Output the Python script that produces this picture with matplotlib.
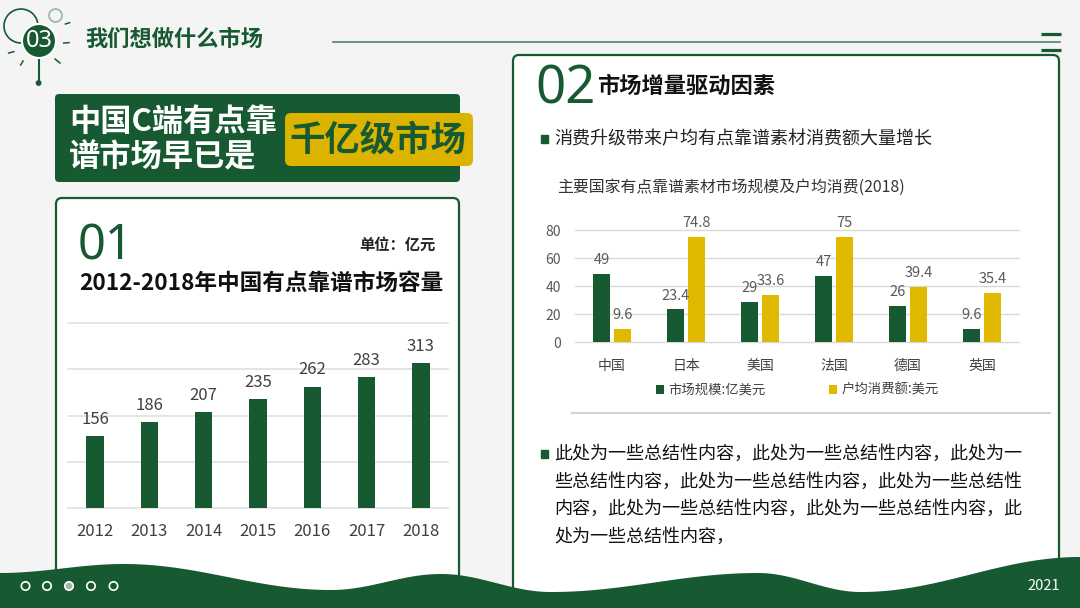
import numpy as np
import matplotlib.pyplot as plt
from matplotlib.patches import FancyBboxPatch, Rectangle, Circle

plt.rcParams['font.family'] = ['Noto Sans CJK SC', 'DejaVu Sans']

# left chart data
years = ['2012', '2013', '2014', '2015', '2016', '2017', '2018']
capacity = [156, 186, 207, 235, 262, 283, 313]

# right chart data
countries = ['中国', '日本', '美国', '法国', '德国', '英国']
market_size = [49, 23.4, 29, 47, 26, 9.6]
household_spend = [9.6, 74.8, 33.6, 75, 39.4, 35.4]
legend_labels = ['市场规模:亿美元', '户均消费额:美元']

summary_lines = [
    '此处为一些总结性内容，此处为一些总结性内容，此处为一',
    '些总结性内容，此处为一些总结性内容，此处为一些总结性',
    '内容，此处为一些总结性内容，此处为一些总结性内容，此',
    '处为一些总结性内容，',
]

GREEN = '#175a32'
YELLOW = '#e0b800'
BG = '#f4f4f4'
W, H = 1080, 608

fig = plt.figure(figsize=(W / 100, H / 100), dpi=100)
fig.patch.set_facecolor(BG)
bg = fig.add_axes([0, 0, 1, 1])
bg.set_xlim(0, W)
bg.set_ylim(H, 0)
bg.axis('off')


def box(x0, y0, x1, y1):
    # pixel box -> figure fraction
    return [x0 / W, 1 - y1 / H, (x1 - x0) / W, (y1 - y0) / H]


# header icon
bg.add_patch(Circle((21, 26), 17, fc='none', ec=GREEN, lw=1.2))
bg.add_patch(Circle((55.5, 15.5), 6.5, fc='none', ec='#9ab5a3', lw=1.2))
bg.plot([38.6, 38.6], [57, 83], color=GREEN, lw=1.5)
bg.add_patch(Circle((38.6, 83), 2.2, color=GREEN))
for (x0, y0, x1, y1) in [(65.4, 24, 69.6, 22.7), (63.7, 43, 68.9, 42.7),
                         (55, 59, 60, 63), (23, 61, 20.7, 65), (8.6, 53, 13.8, 51.7)]:
    bg.plot([x0, x1], [y0, y1], color=GREEN, lw=1.1)
bg.add_patch(Circle((39, 41), 17, fc=GREEN, ec='white', lw=1.5, zorder=3))
bg.text(39, 41, '03', color='white', fontsize=17, ha='center', va='center',
        family=['Noto Sans', 'DejaVu Sans'], zorder=4)
bg.text(85, 39, '我们想做什么市场', color=GREEN, fontsize=16, fontweight='bold', va='center')
bg.plot([333, 1060], [41.5, 41.5], color='#4f8462', lw=1.2)
for yy in (34, 50):
    bg.plot([1041, 1061], [yy, yy], color=GREEN, lw=2.3, solid_capstyle='butt')

# title block
bg.add_patch(FancyBboxPatch((55, 94), 405, 88, boxstyle='round,pad=0,rounding_size=4',
                            fc=GREEN, ec='none'))
bg.text(69, 122, '中国C端有点靠', color='white', fontsize=22.5, fontweight='bold', va='center')
bg.text(69, 157, '谱市场早已是', color='white', fontsize=22.5, fontweight='bold', va='center')
bg.add_patch(FancyBboxPatch((285, 113), 188, 53, boxstyle='round,pad=0,rounding_size=6',
                            fc='#dcb400', ec='none'))
bg.text(378, 140, '千亿级市场', color=GREEN, fontsize=25.5, fontweight='bold',
        ha='center', va='center')

# panels
bg.add_patch(FancyBboxPatch((56, 198), 403, 420, boxstyle='round,pad=0,rounding_size=6',
                            fc='white', ec=GREEN, lw=1.6))
bg.add_patch(FancyBboxPatch((513, 55), 546, 560, boxstyle='round,pad=0,rounding_size=6',
                            fc='white', ec=GREEN, lw=1.6))

# left panel texts
bg.text(78, 259, '01', color=GREEN, fontsize=35, family=['Noto Sans', 'DejaVu Sans'],
        va='baseline')
bg.text(359, 245, '单位：亿元', color='#222222', fontsize=11, fontweight='bold', va='center')
bg.text(79, 283, '2012-2018年中国有点靠谱市场容量', color='#111111', fontsize=16.3,
        fontweight='bold', va='center')

# right panel texts
bg.text(535, 103, '02', color=GREEN, fontsize=38, family=['Noto Sans', 'DejaVu Sans'],
        va='baseline')
bg.text(597, 86, '市场增量驱动因素', color='#111111', fontsize=16, fontweight='bold', va='center')
bg.add_patch(Rectangle((541, 135), 7, 8, color=GREEN))
bg.text(554, 139, '消费升级带来户均有点靠谱素材消费额大量增长', color='#222222', fontsize=13,
        va='center')
bg.text(557, 187, '主要国家有点靠谱素材市场规模及户均消费(2018)', color='#333333',
        fontsize=11.4, va='center')
bg.plot([572, 1050], [413, 413], color='#d4d4d4', lw=1.5)
bg.add_patch(Rectangle((541, 450), 7, 8, color=GREEN))
for i, line in enumerate(summary_lines):
    bg.text(554, [454, 482, 509, 537][i], line, color='#111111', fontsize=13, va='center')

# bottom wave
wx = [0, 124, 331, 441, 551, 758, 861, 1080]
wy = [573, 564, 590, 574, 592, 573, 592, 557]
xs, ys = [], []
for i in range(len(wx) - 1):
    t = np.linspace(0, 1, 60)
    s = (1 - np.cos(np.pi * t)) / 2
    xs.extend(wx[i] + (wx[i + 1] - wx[i]) * t)
    ys.extend(wy[i] + (wy[i + 1] - wy[i]) * s)
bg.fill_between(xs, ys, H, color=GREEN, zorder=5, lw=0)
for i, cx in enumerate([25.5, 47, 69, 91, 113.5]):
    bg.add_patch(Circle((cx, 586), 4.2, fc='#9fb8a6' if i == 2 else 'none',
                        ec='white', lw=1.2, zorder=6))
bg.text(1044, 586, '2021', color='white', fontsize=10.5, ha='center', va='center', zorder=6)

# left chart
ax1 = fig.add_axes(box(68, 323, 448, 508))
ax1.patch.set_visible(False)
bars = ax1.bar(years, capacity, width=0.32, color=GREEN, zorder=3)
ax1.set_xlim(-0.5, 6.5)
ax1.set_ylim(0, 400)
ax1.set_yticks(range(0, 401, 100))
ax1.yaxis.grid(True, color='#e3e3e3', lw=1.3)
for gl in ax1.get_ygridlines():
    gl.set_clip_on(False)
ax1.tick_params(axis='y', length=0, labelleft=False)
ax1.tick_params(axis='x', length=0, pad=11, labelsize=12, labelcolor='#404040')
for sp in ax1.spines.values():
    sp.set_visible(False)
ax1.bar_label(bars, padding=6, fontsize=12, color='#404040')

# right chart
ax2 = fig.add_axes(box(575, 230, 1019, 342.3))
ax2.patch.set_visible(False)
x = np.arange(len(countries))
b1 = ax2.bar(x - 0.142, market_size, 0.22, color=GREEN, zorder=3)
b2 = ax2.bar(x + 0.142, household_spend, 0.22, color=YELLOW, zorder=3)
ax2.set_xlim(-0.5, 5.5)
ax2.set_ylim(0, 80)
ax2.set_yticks(range(0, 81, 20))
ax2.set_xticks(x, countries)
ax2.yaxis.grid(True, color='#d9d9d9', lw=1)
for gl in ax2.get_ygridlines():
    gl.set_clip_on(False)
ax2.tick_params(axis='y', length=0, pad=10, labelsize=10, labelcolor='#595959')
ax2.tick_params(axis='x', length=0, pad=12, labelsize=10, labelcolor='#404040')
for sp in ax2.spines.values():
    sp.set_visible(False)
ax2.bar_label(b1, padding=5, fontsize=10.5, color='#595959')
ax2.bar_label(b2, padding=5, fontsize=10.5, color='#595959')
ax2.legend([b1, b2], legend_labels, ncol=2, frameon=False, loc='center',
           bbox_to_anchor=(797.5 / W, 1 - 390 / H), bbox_transform=fig.transFigure,
           handlelength=0.6, handleheight=0.6, handletextpad=0.35, columnspacing=4.7,
           prop={'size': 9.6}, labelcolor='#404040')

fig.savefig('out.png', dpi=100, facecolor=BG)
